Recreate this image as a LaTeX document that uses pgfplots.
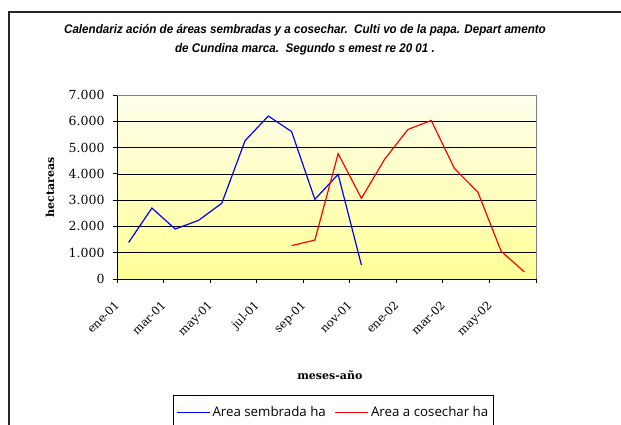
\documentclass[border=0pt]{standalone}
\usepackage{pgfplots}
\pgfplotsset{compat=1.18}
\usepackage{fontspec}
\setmainfont{DejaVu Serif}
\newfontfamily\titlefont{Liberation Sans}
\newfontfamily\legfont{Open Sans}
\definecolor{bgtop}{RGB}{255,255,236}
\definecolor{bgbot}{RGB}{255,255,150}
\begin{document}
\begin{tikzpicture}
\useasboundingbox[fill=white] (0pt,0pt) rectangle (621pt,424pt);
\draw[line width=1.3pt, black!85] (9pt,-5pt) -- (9pt,412pt) -- (630pt,412pt);
\node at (305pt,394pt) {\scalebox{0.93}[1]{\titlefont\bfseries\itshape\fontsize{12.5}{14}\selectfont Calendariz ación de áreas sembradas y a cosechar.\ \ Culti vo de la papa. Depart amento}};
\node at (305pt,375pt) {\scalebox{0.93}[1]{\titlefont\bfseries\itshape\fontsize{12.5}{14}\selectfont de Cundina marca.\ \ Segundo s emest re 20 01 .}};
\begin{axis}[
  at={(117pt,145pt)}, anchor=south west, scale only axis,
  width=419pt, height=184pt,
  xmin=0, xmax=18, ymin=0, ymax=7000,
  axis x line*=bottom, axis y line*=left,
  axis line style={black, line width=0.8pt},
  axis background/.style={shade, top color=bgtop, bottom color=bgbot},
  ymajorgrids, major grid style={black, line width=0.7pt},
  ytick={0,1000,...,7000},
  xtick={0,2,...,18},
  xticklabels={ene-01,mar-01,may-01,jul-01,sep-01,nov-01,ene-02,mar-02,may-02,},
  tick align=outside, major tick length=4pt,
  tick style={black, line width=0.8pt},
  /pgf/number format/1000 sep={.},
  /pgf/number format/assume math mode=true,
  yticklabel style={font=\fontsize{12.5}{12.5}\selectfont, xshift=-5pt},
  xticklabel style={font=\fontsize{11.5}{11.5}\selectfont, xshift=-3pt, yshift=-12pt, rotate=45, anchor=north east},
  xlabel={meses-año},
  xlabel style={font=\bfseries\fontsize{11}{11}\selectfont, at={(axis description cs:0.508,-0.522)}, anchor=center},
  ylabel={hectareas},
  ylabel style={font=\bfseries\fontsize{11}{11}\selectfont, at={(axis description cs:-0.16,0.5)}, anchor=center},
  legend columns=2,
  legend style={at={(axis description cs:0.1337,-0.630)}, anchor=north west,
    draw=black, line width=0.6pt, inner ysep=9.5pt, inner xsep=3pt,
    font=\legfont\fontsize{13.3}{14}\selectfont,
    /tikz/every even column/.append style={column sep=7pt}},
  legend image code/.code={\draw[#1] (0pt,0pt) -- (33pt,0pt);},
  extra description/.code={\draw[gray, line width=0.8pt] (rel axis cs:0,1) -- (rel axis cs:1,1) -- (rel axis cs:1,0);},
]
\addplot[blue, line width=1.2pt] coordinates {
(0.5,1390) (1.5,2700) (2.5,1900) (3.5,2230) (4.5,2880) (5.5,5260)
(6.5,6200) (7.5,5610) (8.5,3030) (9.5,3980) (10.5,530)};
\addlegendentry{Area sembrada ha}
\addplot[red, line width=1.2pt] coordinates {
(7.5,1270) (8.5,1480) (9.5,4770) (10.5,3070) (11.5,4560) (12.5,5690)
(13.5,6030) (14.5,4200) (15.5,3310) (16.5,1060) (17.5,270)};
\addlegendentry{Area a cosechar ha}
\end{axis}
\end{tikzpicture}
\end{document}
